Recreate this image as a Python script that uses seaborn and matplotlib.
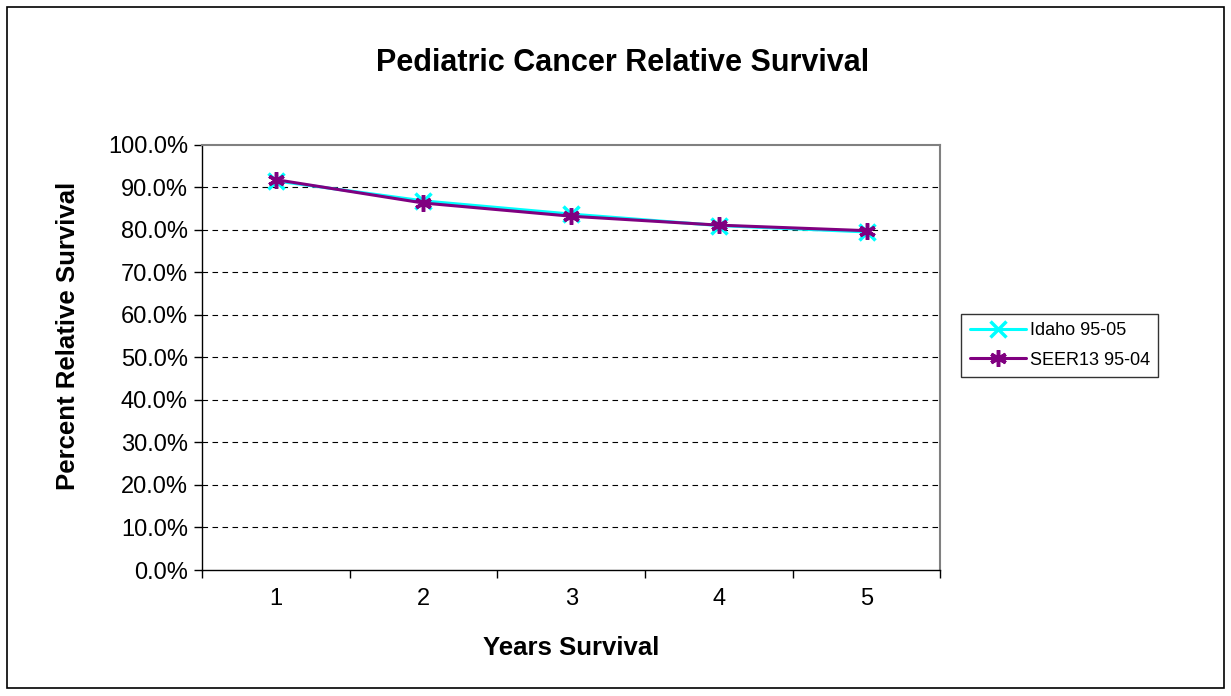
import pandas as pd
import numpy as np
import matplotlib
matplotlib.use("Agg")
import matplotlib.pyplot as plt
import seaborn as sns
from matplotlib.ticker import FixedLocator, NullFormatter, FuncFormatter

# Data
years = [1, 2, 3, 4, 5]
idaho = [91.5, 86.8, 83.7, 81.0, 79.5]
seer13 = [91.8, 86.3, 83.2, 81.1, 79.8]
series_names = ["Idaho 95-05", "SEER13 95-04"]

df = pd.DataFrame({
    "year": years * 2,
    "survival": idaho + seer13,
    "series": [series_names[0]] * len(years) + [series_names[1]] * len(years),
})

sns.set_style("white")
plt.rcParams["font.family"] = ["Liberation Sans", "DejaVu Sans"]
plt.rcParams["text.color"] = "black"
plt.rcParams["axes.labelcolor"] = "black"
plt.rcParams["xtick.color"] = "black"
plt.rcParams["ytick.color"] = "black"

fig = plt.figure(figsize=(12.31, 6.96), dpi=100)
# outer chart border
fig.patches.append(plt.Rectangle((0.006, 0.011), 0.988, 0.979, transform=fig.transFigure,
                                 fill=False, edgecolor="black", linewidth=1.2))
ax = fig.add_axes([0.164, 0.181, 0.600, 0.611])

colors = {series_names[0]: "#00FFFF", series_names[1]: "#800080"}
markers = {series_names[0]: "x", series_names[1]: (6, 2, 0)}
sns.lineplot(data=df, x="year", y="survival", hue="series", style="series",
             palette=colors, markers=markers, dashes=False, linewidth=2.2,
             markersize=12, ax=ax, legend=False)

# seaborn draws marker edges white, so colour them like the lines
for line in ax.get_lines():
    line.set_markeredgecolor(line.get_color())
    line.set_markeredgewidth(2.5)

ax.set_xlim(0.5, 5.5)
ax.set_ylim(0, 100)
ax.set_yticks(np.arange(0, 101, 10))
ax.yaxis.set_major_formatter(FuncFormatter(lambda v, p: f"{v:.1f}%"))
ax.xaxis.set_major_locator(FixedLocator([0.5, 1.5, 2.5, 3.5, 4.5, 5.5]))
ax.xaxis.set_major_formatter(NullFormatter())
ax.xaxis.set_minor_locator(FixedLocator(years))
ax.set_xticklabels([str(y) for y in years], minor=True)
ax.tick_params(axis="x", which="major", length=6, width=1, direction="out", color="black", bottom=True)
ax.tick_params(axis="x", which="minor", length=0, labelsize=17, pad=13)
ax.tick_params(axis="y", length=6, width=1, direction="out", color="black", labelsize=17, left=True, pad=4)

for v in range(10, 100, 10):
    ax.axhline(v, color="black", linestyle=(0, (5, 4)), linewidth=0.8, zorder=0)

for side in ["left", "bottom"]:
    ax.spines[side].set_color("black")
    ax.spines[side].set_linewidth(1)
for side in ["top", "right"]:
    ax.spines[side].set_color("#808080")
    ax.spines[side].set_linewidth(1.5)

ax.set_xlabel("Years Survival", fontsize=18.5, fontweight="bold", labelpad=19)
ax.set_ylabel("Percent Relative Survival", fontsize=18.5, fontweight="bold")
ax.yaxis.set_label_coords(-0.165, 0.55)
fig.text(0.506, 0.909, "Pediatric Cancer Relative Survival", ha="center", va="center",
         fontsize=22, fontweight="bold")

handles = []
for name in series_names:
    h, = ax.plot([], [], color=colors[name], marker=markers[name], linewidth=2.2,
                 markersize=12, markeredgewidth=2.5, label=name)
    handles.append(h)
leg = ax.legend(handles=handles, loc="upper left", bbox_to_anchor=(0.781, 0.549),
                bbox_transform=fig.transFigure, fontsize=13, frameon=True, fancybox=False,
                edgecolor="black", handlelength=3.1, handletextpad=0.25, borderpad=0.45,
                borderaxespad=0, labelspacing=0.7)
leg.get_frame().set_linewidth(1)

fig.savefig("out.png", dpi=100)
